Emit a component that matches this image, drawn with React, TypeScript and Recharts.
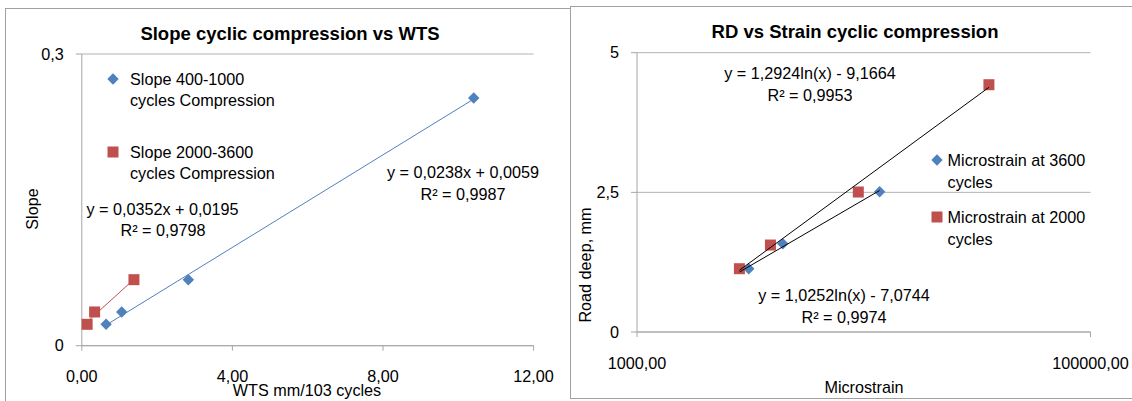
import { CartesianGrid, Legend, Scatter, ScatterChart, XAxis, YAxis } from "recharts";

const FONT = "'Liberation Sans', Arial, sans-serif";
const FS = 16.2;
const TITLE_FS = 18.5;
const BLUE = "#4F81BD";
const RED = "#C0504D";
const GRID = "#B3B3B3";
const AXIS = "#A6A6A6";

// left chart: slope vs WTS
const wtsBlue = [0.645, 1.06, 2.83, 10.41];
const slopeBlue = [0.022, 0.0347, 0.0679, 0.2548];
const wtsRed = [0.142, 0.34, 1.385];
const slopeRed = [0.022, 0.0347, 0.0679];
const wtsTicks = [0, 4, 8, 12];
const slopeTicks = [0, 0.3];
const fitBlue = { a: 0.0238, b: 0.0059 };
const fitRed = { a: 0.0352, b: 0.0195 };

// right chart: road deep vs microstrain
const strainBlue = [3111, 4395, 11750];
const rdBlue = [1.133, 1.581, 2.512];
const strainRed = [2829, 3877, 9462, 35645];
const rdRed = [1.133, 1.557, 2.506, 4.427];
const strainTicks = [1000, 100000];
const rdTicks = [0, 2.5, 5];
const logFitBlue = { a: 1.0252, b: -7.0744 };
const logFitRed = { a: 1.2924, b: -9.1664 };

const pts = (xs: number[], ys: number[]) => xs.map((x, i) => ({ x, y: ys[i] }));
const linFit = (xs: number[], f: { a: number; b: number }) =>
  [Math.min(...xs), Math.max(...xs)].map((x) => ({ x, y: f.a * x + f.b }));
const logFit = (from: number, to: number, f: { a: number; b: number }) =>
  [from, to].map((x) => ({ x, y: f.a * Math.log(x) + f.b }));

const comma = (d: number) => (v: number) => v.toFixed(d).replace(".", ",");
const plain = (v: number) => String(v).replace(".", ",");

const Diamond = (p: any) => (
  <polygon
    points={`${p.cx},${p.cy - 5.7} ${p.cx + 5.7},${p.cy} ${p.cx},${p.cy + 5.7} ${p.cx - 5.7},${p.cy}`}
    fill={BLUE}
  />
);
const Square = (p: any) => <rect x={p.cx - 5.5} y={p.cy - 5.5} width={11} height={11} fill={RED} />;
const Nothing = () => <g />;

const tickStyle = { fill: "#000", fontSize: FS, fontFamily: FONT };

function makeLegend(lineH: number, gap: number, textLeft: number) {
  return (props: any) => {
    const items = (props.payload || [])
      .filter((e: any) => e.type === "diamond" || e.type === "square")
      .sort((a: any, b: any) => (a.type === "diamond" ? 0 : 1) - (b.type === "diamond" ? 0 : 1));
    return (
      <div style={{ fontFamily: FONT, fontSize: FS, color: "#000" }}>
        {items.map((e: any, i: number) => (
          <div
            key={i}
            style={{ position: "relative", paddingLeft: textLeft, lineHeight: lineH + "px", marginBottom: gap, whiteSpace: "pre-line" }}
          >
            <svg width={12} height={12} style={{ position: "absolute", left: 0, top: lineH / 2 - 6 }}>
              {e.type === "diamond" ? (
                <polygon points="6,0.3 11.7,6 6,11.7 0.3,6" fill={BLUE} />
              ) : (
                <rect x={0.5} y={0.5} width={11} height={11} fill={RED} />
              )}
            </svg>
            {e.value}
          </div>
        ))}
      </div>
    );
  };
}

const txt = { fontFamily: FONT, fontSize: FS, fill: "#000" };

function SlopeChart() {
  return (
    <div style={{ position: "absolute", left: 0, top: 0, width: 570, height: 401 }}>
      <ScatterChart width={570} height={401} margin={{ top: 54, right: 36.4, bottom: 25.3, left: 51.8 }}>
        <CartesianGrid vertical={false} stroke={GRID} />
        <XAxis
          type="number"
          dataKey="x"
          domain={[0, 12]}
          ticks={wtsTicks}
          interval={0}
          height={30}
          tickSize={5}
          tickMargin={20}
          tickFormatter={comma(2)}
          tick={tickStyle}
          stroke={AXIS}
        />
        <YAxis
          type="number"
          dataKey="y"
          domain={[0, 0.3]}
          ticks={slopeTicks}
          interval={0}
          width={30}
          tickSize={6}
          tickMargin={12}
          tickFormatter={plain}
          tick={tickStyle}
          stroke={AXIS}
        />
        <Legend
          layout="vertical"
          verticalAlign="middle"
          align="center"
          wrapperStyle={{ left: 107, top: 68.5, width: 200 }}
          content={makeLegend(21.5, 30, 23)}
        />
        <Scatter name={"Slope 400-1000\ncycles Compression"} data={pts(wtsBlue, slopeBlue)} fill={BLUE} legendType="diamond" shape={Diamond} isAnimationActive={false} />
        <Scatter name={"Slope 2000-3600\ncycles Compression"} data={pts(wtsRed, slopeRed)} fill={RED} legendType="square" shape={Square} isAnimationActive={false} />
        <Scatter data={linFit(wtsBlue, fitBlue)} line={{ stroke: BLUE, strokeWidth: 1 }} shape={Nothing} legendType="none" isAnimationActive={false} />
        <Scatter data={linFit(wtsRed, fitRed)} line={{ stroke: RED, strokeWidth: 1 }} shape={Nothing} legendType="none" isAnimationActive={false} />
      </ScatterChart>
      <svg width={570} height={401} style={{ position: "absolute", left: 0, top: 0, pointerEvents: "none" }}>
        <text x={290} y={33} textAnchor="middle" dominantBaseline="central" {...txt} fontSize={TITLE_FS} fontWeight="bold">
          Slope cyclic compression vs WTS
        </text>
        <text x={307} y={390} textAnchor="middle" dominantBaseline="central" {...txt}>
          WTS mm/103 cycles
        </text>
        <text x={32} y={209} textAnchor="middle" dominantBaseline="central" transform="rotate(-90 32 209)" {...txt}>
          Slope
        </text>
        <text x={162.5} y={209} textAnchor="middle" dominantBaseline="central" {...txt}>
          y = 0,0352x + 0,0195
        </text>
        <text x={163} y={230} textAnchor="middle" dominantBaseline="central" {...txt}>
          R² = 0,9798
        </text>
        <text x={463} y={172} textAnchor="middle" dominantBaseline="central" {...txt}>
          y = 0,0238x + 0,0059
        </text>
        <text x={463} y={194} textAnchor="middle" dominantBaseline="central" {...txt}>
          R² = 0,9987
        </text>
      </svg>
    </div>
  );
}

function StrainChart() {
  return (
    <div style={{ position: "absolute", left: 570, top: 0, width: 562, height: 401 }}>
      <ScatterChart width={562} height={401} margin={{ top: 52.7, right: 41.5, bottom: 39, left: 37 }}>
        <CartesianGrid vertical={false} stroke={GRID} />
        <XAxis
          type="number"
          dataKey="x"
          scale="log"
          domain={[1000, 100000]}
          ticks={strainTicks}
          interval={0}
          height={30}
          tickSize={5}
          tickMargin={20}
          tickFormatter={comma(2)}
          tick={tickStyle}
          stroke={AXIS}
          allowDataOverflow
        />
        <YAxis
          type="number"
          dataKey="y"
          domain={[0, 5]}
          ticks={rdTicks}
          interval={0}
          width={30}
          tickSize={6}
          tickMargin={12}
          tickFormatter={plain}
          tick={tickStyle}
          stroke={AXIS}
        />
        <Legend
          layout="vertical"
          verticalAlign="middle"
          align="center"
          wrapperStyle={{ left: 360.8, top: 148.75, width: 195 }}
          content={makeLegend(22.5, 12, 16.8)}
        />
        <Scatter name={"Microstrain at 3600\ncycles"} data={pts(strainBlue, rdBlue)} fill={BLUE} legendType="diamond" shape={Diamond} isAnimationActive={false} />
        <Scatter name={"Microstrain at 2000\ncycles"} data={pts(strainRed, rdRed)} fill={RED} legendType="square" shape={Square} isAnimationActive={false} />
        <Scatter
          data={logFit(Math.min(...strainRed), Math.max(...strainBlue), logFitBlue)}
          line={{ stroke: "#000", strokeWidth: 1 }}
          shape={Nothing}
          legendType="none"
          isAnimationActive={false}
        />
        <Scatter
          data={logFit(Math.min(...strainRed), Math.max(...strainRed), logFitRed)}
          line={{ stroke: "#000", strokeWidth: 1 }}
          shape={Nothing}
          legendType="none"
          isAnimationActive={false}
        />
      </ScatterChart>
      <svg width={562} height={401} style={{ position: "absolute", left: 0, top: 0, pointerEvents: "none" }}>
        <text x={285} y={31.7} textAnchor="middle" dominantBaseline="central" {...txt} fontSize={TITLE_FS} fontWeight="bold">
          RD vs Strain cyclic compression
        </text>
        <text x={294} y={387} textAnchor="middle" dominantBaseline="central" {...txt}>
          Microstrain
        </text>
        <text x={15} y={265} textAnchor="middle" dominantBaseline="central" transform="rotate(-90 15 265)" {...txt}>
          Road deep, mm
        </text>
        <text x={240} y={72.7} textAnchor="middle" dominantBaseline="central" {...txt}>
          y = 1,2924ln(x) - 9,1664
        </text>
        <text x={240} y={95} textAnchor="middle" dominantBaseline="central" {...txt}>
          R² = 0,9953
        </text>
        <text x={274} y={295.3} textAnchor="middle" dominantBaseline="central" {...txt}>
          y = 1,0252ln(x) - 7,0744
        </text>
        <text x={274} y={317.3} textAnchor="middle" dominantBaseline="central" {...txt}>
          R² = 0,9974
        </text>
      </svg>
    </div>
  );
}

export default function App() {
  return (
    <div style={{ position: "absolute", left: 0, top: 0, width: 1132, height: 401, background: "#fff", overflow: "hidden" }}>
      <div style={{ position: "absolute", left: 5, top: 8, width: 1200, height: 420, border: "1px solid #A0A0A0" }} />
      <SlopeChart />
      <div style={{ position: "absolute", left: 570, top: 6, width: 620, height: 391, border: "1px solid #A0A0A0", background: "#fff" }} />
      <StrainChart />
    </div>
  );
}
